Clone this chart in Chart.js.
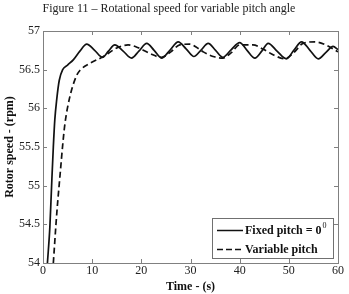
<!DOCTYPE html>
<html>
<head>
  <title>Rotational speed for variable pitch angle</title>
  <script src="https://cdn.jsdelivr.net/npm/chart.js"></script>
  <style>
    body { margin: 0; background: #fff; }
  </style>
</head>
<body>
  <canvas id="speedChart" width="349" height="294"></canvas>

  <script>
    // Data (time in s, rotor speed in rpm)
    const fixedTime  = [0.9, 1.4, 1.75, 2.1, 2.4, 2.8, 3.3, 4.0, 5.0, 6.2, 7.5, 8.9, 10.5, 12.1, 13.3, 14.6, 16.3, 18.0, 19.5, 21.1, 22.6, 24.1, 25.8, 27.5, 29.1, 30.7, 32.1, 33.6, 35.1, 36.6, 38.3, 40.0, 41.5, 43.1, 44.5, 45.8, 47.6, 49.5, 51.0, 52.6, 54.3, 56.0, 57.5, 59.0, 60.0];
    const fixedSpeed = [54.0, 54.47, 55.0, 55.5, 55.85, 56.12, 56.36, 56.5, 56.56, 56.63, 56.74, 56.83, 56.75, 56.66, 56.74, 56.82, 56.74, 56.65, 56.74, 56.84, 56.75, 56.65, 56.75, 56.86, 56.77, 56.67, 56.75, 56.84, 56.75, 56.66, 56.76, 56.85, 56.75, 56.65, 56.74, 56.84, 56.74, 56.64, 56.75, 56.86, 56.75, 56.64, 56.72, 56.80, 56.76];

    const varTime  = [2.1, 2.8, 3.5, 4.1, 4.5, 5.5, 6.8, 7.5, 9.5, 12.3, 15.0, 17.3, 19.5, 21.7, 24.1, 26.0, 27.8, 29.9, 31.2, 32.6, 34.6, 36.6, 38.3, 40.0, 42.7, 44.9, 46.9, 49.2, 51.0, 52.9, 55.3, 57.5, 60.0];
    const varSpeed = [54.0, 54.64, 55.16, 55.59, 55.82, 56.16, 56.42, 56.49, 56.58, 56.67, 56.78, 56.82, 56.78, 56.71, 56.66, 56.73, 56.82, 56.83, 56.79, 56.73, 56.67, 56.65, 56.72, 56.82, 56.82, 56.76, 56.69, 56.64, 56.72, 56.84, 56.86, 56.82, 56.73];

    const seriesNames = ['Fixed pitch = 0', 'Variable pitch'];
    const fixedSup = '0'; // superscript after "= 0" in the legend

    const serif = 'Liberation Serif';

    // pair up x/y arrays for the line datasets
    function toPoints(xs, ys) {
      return xs.map((x, i) => ({ x: x, y: ys[i] }));
    }

    // MATLAB style box with inward tick marks, plus boxed legend in the lower right
    const matlabFrame = {
      id: 'matlabFrame',
      afterDraw(chart) {
        const ctx = chart.ctx;
        const a = chart.chartArea;
        const xs = chart.scales.x;
        const ys = chart.scales.y;
        ctx.save();
        ctx.strokeStyle = '#808080';
        ctx.lineWidth = 1;
        ctx.strokeRect(a.left + 0.5, a.top + 0.5, a.right - a.left, a.bottom - a.top);

        const tl = 4;
        ctx.beginPath();
        xs.ticks.forEach(t => {
          const px = Math.round(xs.getPixelForValue(t.value)) + 0.5;
          ctx.moveTo(px, a.bottom); ctx.lineTo(px, a.bottom - tl);
          ctx.moveTo(px, a.top); ctx.lineTo(px, a.top + tl);
        });
        ys.ticks.forEach(t => {
          const py = Math.round(ys.getPixelForValue(t.value)) + 0.5;
          ctx.moveTo(a.left, py); ctx.lineTo(a.left + tl, py);
          ctx.moveTo(a.right, py); ctx.lineTo(a.right - tl, py);
        });
        ctx.stroke();

        // legend box
        const bx = a.right - 126, by = a.bottom - 45, bw = 121, bh = 40;
        ctx.fillStyle = '#fff';
        ctx.fillRect(bx, by, bw, bh);
        ctx.strokeStyle = '#707070';
        ctx.strokeRect(bx + 0.5, by + 0.5, bw, bh);

        ctx.strokeStyle = '#111';
        ctx.lineWidth = 1.5;
        ctx.beginPath();
        ctx.moveTo(bx + 5, by + 12.5); ctx.lineTo(bx + 31, by + 12.5);
        ctx.stroke();
        ctx.setLineDash([6, 3]);
        ctx.beginPath();
        ctx.moveTo(bx + 5, by + 31.5); ctx.lineTo(bx + 32, by + 31.5);
        ctx.stroke();
        ctx.setLineDash([]);

        ctx.fillStyle = '#111';
        ctx.font = 'bold 12px "' + serif + '"';
        ctx.textAlign = 'left';
        ctx.textBaseline = 'middle';
        const tx = bx + 33;
        ctx.fillText(seriesNames[0], tx, by + 13);
        const w = ctx.measureText(seriesNames[0]).width;
        ctx.font = '8px "' + serif + '"';
        ctx.fillText(fixedSup, tx + w + 1, by + 8);
        ctx.font = 'bold 12px "' + serif + '"';
        ctx.fillText(seriesNames[1], tx, by + 32);
        ctx.restore();
      }
    };

    const ctx = document.getElementById('speedChart').getContext('2d');

    new Chart(ctx, {
      type: 'line',
      data: {
        datasets: [
          {
            label: seriesNames[0] + '\u00B0',
            data: toPoints(fixedTime, fixedSpeed),
            borderColor: '#111',
            borderWidth: 1.7,
            pointRadius: 0,
            cubicInterpolationMode: 'monotone'
          },
          {
            label: seriesNames[1],
            data: toPoints(varTime, varSpeed),
            borderColor: '#111',
            borderWidth: 1.7,
            borderDash: [6, 3.5],
            pointRadius: 0,
            cubicInterpolationMode: 'monotone'
          }
        ]
      },
      options: {
        responsive: false,
        animation: false,
        clip: true,
        layout: { padding: { left: 0, right: 11, top: 0, bottom: 0 } },
        plugins: {
          legend: { display: false },
          tooltip: { enabled: false },
          title: {
            display: true,
            text: 'Figure 11 \u2013 Rotational speed for variable pitch angle',
            color: '#222',
            font: { family: serif, size: 12, weight: 'normal' },
            padding: { top: 2, bottom: 14.6 }
          }
        },
        scales: {
          x: {
            type: 'linear',
            min: 0,
            max: 60,
            ticks: {
              stepSize: 10,
              color: '#222',
              padding: 1,
              maxRotation: 0,
              font: { family: serif, size: 12 }
            },
            grid: { display: false, drawTicks: false },
            border: { display: false },
            title: {
              display: true,
              text: 'Time - (s)',
              color: '#111',
              padding: { top: 0, bottom: 0 },
              font: { family: serif, size: 12, weight: 'bold' }
            },
            afterFit(scale) { scale.height = 31; }
          },
          y: {
            min: 54,
            max: 57,
            ticks: {
              stepSize: 0.5,
              color: '#222',
              padding: 3,
              font: { family: serif, size: 12 },
              callback: v => String(v)
            },
            grid: { display: false, drawTicks: false },
            border: { display: false },
            title: {
              display: true,
              text: 'Rotor speed - (rpm)',
              color: '#111',
              padding: { top: 3, bottom: 0 },
              font: { family: serif, size: 12, weight: 'bold' }
            },
            afterFit(scale) { scale.width = 43; }
          }
        }
      },
      plugins: [matlabFrame]
    });
  </script>
</body>
</html>
